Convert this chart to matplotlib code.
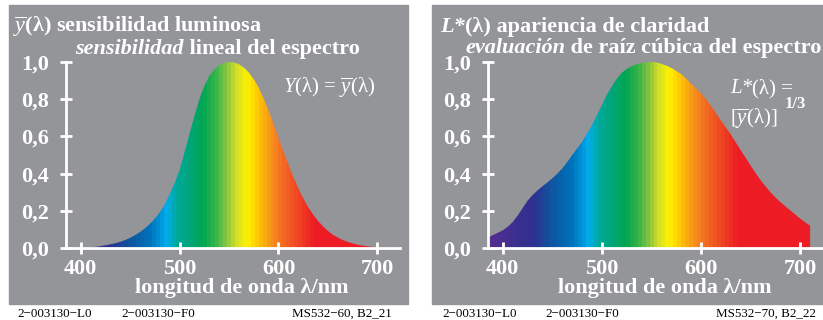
import numpy as np
import matplotlib.pyplot as plt
from matplotlib.patches import Rectangle
from matplotlib.colors import to_rgb

plt.rcParams['font.family'] = 'Liberation Serif'
plt.rcParams['mathtext.fontset'] = 'custom'
plt.rcParams['mathtext.rm'] = 'Liberation Serif'
plt.rcParams['mathtext.it'] = 'Liberation Serif:italic'
plt.rcParams['mathtext.bf'] = 'Liberation Serif:bold'

# luminous sensitivity ybar(lambda) (5 nm steps)
wl_ybar = np.arange(400, 715, 5)
ybar = [0.0005, 0.001, 0.003, 0.006, 0.01, 0.015, 0.02, 0.026, 0.033, 0.043,
        0.055, 0.069, 0.086, 0.106, 0.13, 0.158, 0.192, 0.235, 0.29, 0.35,
        0.42, 0.515, 0.615, 0.71, 0.80, 0.87, 0.925, 0.96, 0.983, 0.995,
        1.0, 0.997, 0.988, 0.97, 0.943, 0.908, 0.862, 0.805, 0.74, 0.668,
        0.592, 0.518, 0.45, 0.382, 0.322, 0.268, 0.22, 0.18, 0.146, 0.117,
        0.092, 0.072, 0.056, 0.043, 0.033, 0.025, 0.018, 0.013, 0.009, 0.006,
        0.004, 0.003, 0.002]

# lightness L*(lambda)
wl_lstar = np.arange(385, 715, 5)
lstar = [0.055, 0.07, 0.082, 0.095, 0.115, 0.14, 0.175, 0.215, 0.255, 0.285,
         0.31, 0.332, 0.353, 0.375, 0.4, 0.428, 0.462, 0.5, 0.535, 0.572,
         0.615, 0.662, 0.715, 0.77, 0.825, 0.87, 0.91, 0.942, 0.962, 0.977,
         0.988, 0.995, 0.999, 1.0, 0.998, 0.99, 0.98, 0.968, 0.952, 0.935,
         0.91, 0.883, 0.858, 0.832, 0.8, 0.765, 0.725, 0.685, 0.648, 0.61,
         0.568, 0.525, 0.485, 0.443, 0.403, 0.365, 0.332, 0.3, 0.272, 0.247,
         0.224, 0.202, 0.18, 0.158, 0.138, 0.12]

xticks = [400, 500, 600, 700]
xtick_labels = ['400', '500', '600', '700']
yticks = [0.0, 0.2, 0.4, 0.6, 0.8, 1.0]
ytick_labels = ['0,0', '0,2', '0,4', '0,6', '0,8', '1,0']

# spectral colour bands (style only)
spec_wl = [380, 410, 430, 450, 470, 480, 487, 497, 510, 524, 537, 548, 558, 568,
           578, 592, 607, 622, 637, 725]
spec_col = ['#5b2c8f', '#3e2f8f', '#2e3192', '#0f55a0', '#0072bc', '#0093d6',
            '#00aeef', '#00a99d', '#00a67a', '#00a651', '#39b54a', '#8dc63f',
            '#d7df23', '#fff200', '#ffcb05', '#f7941d', '#f26522', '#ef4123',
            '#ed1c24', '#ed1c24']

W, H = 823, 320
GRAY = '#939598'


def px(x, y):
    return x / W, 1 - y / H


def panel(ax, wl, vals):
    poly = ax.fill_between(wl, 0, vals, facecolor='none', edgecolor='none')
    edges = np.arange(380, 725, 4)
    centers = edges[:-1] + 2
    rgb = np.array([to_rgb(c) for c in spec_col])
    cols = np.stack([np.interp(centers, spec_wl, rgb[:, k]) for k in range(3)], axis=-1)
    im = ax.imshow(cols[None, :, :], extent=(edges[0], edges[-1], 0, 1),
                   aspect='auto', interpolation='nearest', origin='lower')
    im.set_clip_path(poly.get_paths()[0], transform=ax.transData)

    ax.set_xlim(385, 723)
    ax.set_ylim(0, 1.0)
    ax.set_facecolor('none')
    for s in ['top', 'right']:
        ax.spines[s].set_visible(False)
    for s in ['left', 'bottom']:
        ax.spines[s].set_color('white')
        ax.spines[s].set_linewidth(2)
    ax.set_xticks(xticks)
    ax.set_xticklabels(xtick_labels, fontsize=16, fontweight='bold', color='white')
    ax.set_yticks(yticks)
    ax.set_yticklabels(ytick_labels, fontsize=16, fontweight='bold', color='white')
    ax.tick_params(axis='both', direction='inout', length=8, width=2, color='white')
    ax.tick_params(axis='y', pad=8)
    ax.tick_params(axis='x', pad=4)


def chain(t, s, **kw):
    # place a text piece right after another one on the same baseline
    fig.add_artist(plt.Annotation(s, xy=(1, 0), xycoords=t, va='bottom', **kw))


fig = plt.figure(figsize=(W / 100, H / 100), dpi=100)
fig.patch.set_facecolor('white')

fig.add_artist(Rectangle(px(9, 304), 399 / W, 299 / H, transform=fig.transFigure,
                         color=GRAY, zorder=-1))
fig.add_artist(Rectangle(px(432, 304), 391 / W, 299 / H, transform=fig.transFigure,
                         color=GRAY, zorder=-1))

ax1 = fig.add_axes([66 / W, 72 / H, 334 / W, 186 / H])
panel(ax1, wl_ybar, ybar)
ax2 = fig.add_axes([488 / W, 72 / H, 335 / W, 186 / H])
panel(ax2, wl_lstar, lstar)

tkw = dict(color='white', fontsize=16, fontweight='bold', va='baseline')
bkw = dict(color='white', fontsize=16, fontweight='bold')

# left titles
fig.text(*px(13, 32), r'$\overline{y}$(λ) sensibilidad luminosa', **tkw)
t = fig.text(*px(75, 54), 'sensibilidad', fontstyle='italic', **tkw)
chain(t, ' lineal del espectro', **bkw)

# right titles
t = fig.text(*px(440, 32), 'L*', fontstyle='italic', **tkw)
chain(t, '(λ) apariencia de claridad', **bkw)
t = fig.text(*px(465, 53), 'evaluación', fontstyle='italic', **tkw)
chain(t, ' de raíz cúbica del espectro', **bkw)

# formulas
fig.text(*px(283, 93), r'$Y$(λ) = $\overline{y}$(λ)', color='white', fontsize=15,
         va='baseline')
t = fig.text(*px(730, 93), 'L*', fontstyle='italic', color='white', fontsize=15,
             va='baseline')
chain(t, '(λ) =', color='white', fontsize=15)
fig.text(*px(730, 124), r'[$\overline{y}$(λ)]', color='white', fontsize=15, va='baseline')
fig.text(*px(785, 108), '1/3', color='white', fontsize=12, fontweight='bold',
         va='baseline')

# axis labels
fig.text(*px(241.5, 288), 'longitud de onda λ/nm', ha='center', va='center',
         color='white', fontsize=16, fontweight='bold')
fig.text(*px(664.5, 288), 'longitud de onda λ/nm', ha='center', va='center',
         color='white', fontsize=16, fontweight='bold')

# footers
fkw = dict(color='black', fontsize=9.4, va='baseline')
fig.text(*px(17, 317), '2\u2212003130\u2212L0', **fkw)
fig.text(*px(121, 317), '2\u2212003130\u2212F0', **fkw)
fig.text(*px(392, 317), 'MS532\u221260, B2_21', ha='right', **fkw)
fig.text(*px(442, 317), '2\u2212003130\u2212L0', **fkw)
fig.text(*px(545, 317), '2\u2212003130\u2212F0', **fkw)
fig.text(*px(816, 317), 'MS532\u221270, B2_22', ha='right', **fkw)

fig.savefig('out.png', dpi=100)
